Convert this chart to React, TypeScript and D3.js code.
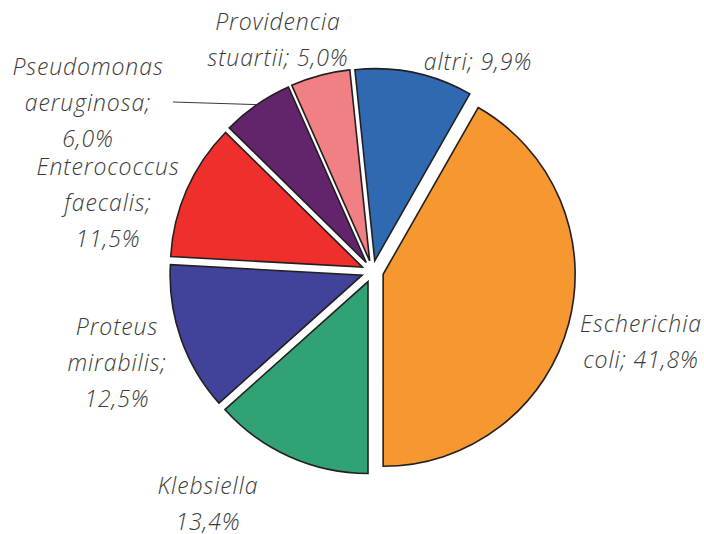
import React from "react";
import * as d3 from "d3";

const categories = [
  "Escherichia coli",
  "Klebsiella",
  "Proteus mirabilis",
  "Enterococcus faecalis",
  "Pseudomonas aeruginosa",
  "Providencia stuartii",
  "altri",
];
const values = [41.8, 13.4, 12.5, 11.5, 6.0, 5.0, 9.9];
const colors = ["#F6972F", "#31A275", "#41429A", "#EE2F2B", "#62246A", "#F08083", "#2F69B2"];

// Label text lines per slice
const labelLines = [
  ["Escherichia", "coli; 41,8%"],
  ["Klebsiella", "13,4%"],
  ["Proteus", "mirabilis;", "12,5%"],
  ["Enterococcus", "faecalis;", "11,5%"],
  ["Pseudomonas", "aeruginosa;", "6,0%"],
  ["Providencia", "stuartii; 5,0%"],
  ["altri; 9,9%"],
];

// Label anchor (centre x, first baseline y)
const labelPos: [number, number][] = [
  [641, 332],
  [208, 494],
  [117, 335],
  [108, 175],
  [88, 75],
  [278, 30],
  [478, 70],
];

const W = 704;
const H = 534;
const cx = 372.5;
const cy = 271.5;
const R = 192;
const explode = 11;
const lineGap = 36;

export default function App() {
  const total = d3.sum(values);
  const startDeg = 180 - (values[0] / total) * 360;
  const start = (startDeg * Math.PI) / 180;
  const pie = d3
    .pie<number>()
    .sort(null)
    .value((d) => d)
    .startAngle(start)
    .endAngle(start + 2 * Math.PI);
  const arcs = pie(values);
  const arc = d3.arc<d3.PieArcDatum<number>>().innerRadius(0).outerRadius(R);

  const offset = (a: d3.PieArcDatum<number>) => {
    const m = (a.startAngle + a.endAngle) / 2;
    return [explode * Math.sin(m), -explode * Math.cos(m)];
  };

  // leader line for the Pseudomonas label
  const ps = arcs[4];
  const psMid = (ps.startAngle + ps.endAngle) / 2;
  const [pox, poy] = offset(ps);
  const leadX = cx + pox + R * Math.sin(psMid);
  const leadY = cy + poy - R * Math.cos(psMid);

  return (
    <svg
      width={W}
      height={H}
      style={{ position: "absolute", left: 0, top: 0, background: "#fff" }}
    >
      <g transform={`translate(${cx},${cy})`}>
        {arcs.map((a, i) => {
          const [ox, oy] = offset(a);
          return (
            <path
              key={categories[i]}
              d={arc(a) || ""}
              transform={`translate(${ox},${oy})`}
              fill={colors[i]}
              stroke="#231F20"
              strokeWidth={1.6}
              strokeLinejoin="miter"
            />
          );
        })}
      </g>
      <line
        x1={173}
        y1={102}
        x2={leadX}
        y2={leadY}
        stroke="#3a3a3a"
        strokeWidth={1}
      />
      <g
        fontFamily="'Open Sans', sans-serif"
        fontStyle="italic"
        fontWeight={300}
        fontSize={23}
        letterSpacing={0.9}
        fill="#3a3a3a"
        textAnchor="middle"
      >
        {labelLines.map((lines, i) => (
          <text key={categories[i]} x={labelPos[i][0]} y={labelPos[i][1]}>
            {lines.map((l, j) => (
              <tspan key={j} x={labelPos[i][0]} y={labelPos[i][1] + j * lineGap}>
                {l}
              </tspan>
            ))}
          </text>
        ))}
      </g>
    </svg>
  );
}
